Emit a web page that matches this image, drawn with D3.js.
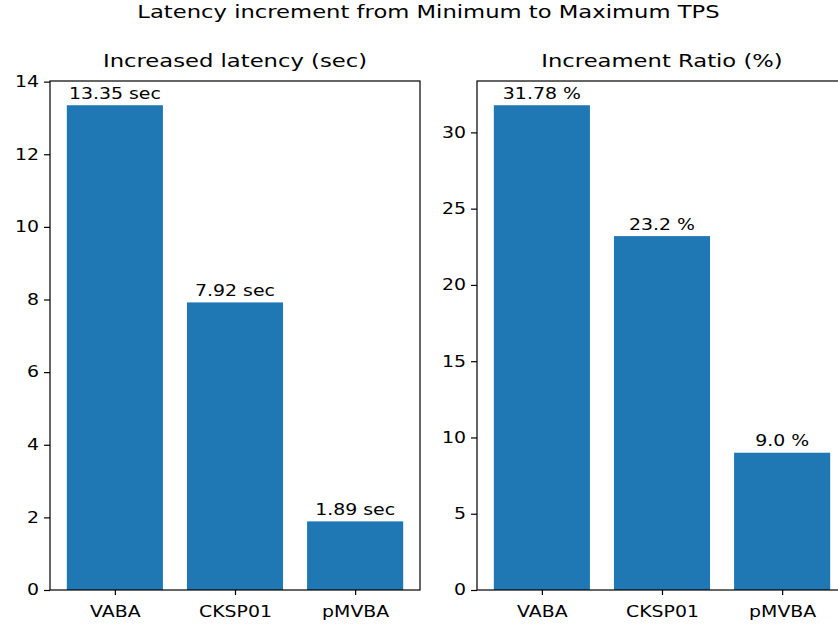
<!DOCTYPE html>
<html>
<head>
<meta charset="utf-8">
<script src="https://cdn.jsdelivr.net/npm/d3@7"></script>
<style>
  body { margin: 0; background: #fff; }
  svg { font-family: "DejaVu Sans", sans-serif; }
</style>
</head>
<body>
<div id="chart"></div>
<script>
const categories = ["VABA", "CKSP01", "pMVBA"];
const latencyValues = [13.35, 7.92, 1.89];
const ratioValues = [31.78, 23.2, 9.0];
const latencyTicks = [0, 2, 4, 6, 8, 10, 12, 14];
const ratioTicks = [0, 5, 10, 15, 20, 25, 30];

const W = 838, H = 626;
const SX = 1.26; // the picture is wider than tall, text is stretched sideways
const svg = d3.select("#chart").append("svg").attr("width", W).attr("height", H);

// python-like float printing (9.0 stays "9.0")
const pyStr = (v) => (Number.isInteger(v) ? v.toFixed(1) : String(v));

// stretch text horizontally around its anchor x
function stretch(sel) {
  sel.each(function () {
    const t = d3.select(this);
    const x = +(t.attr("x") || 0);
    t.attr("x", x / SX).attr("transform", `scale(${SX},1)`);
  });
}

svg.append("text")
  .attr("x", 428.5)
  .attr("y", 18)
  .attr("text-anchor", "middle")
  .attr("font-size", 18)
  .text("Latency increment from Minimum to Maximum TPS")
  .call(stretch);

function panel(left, title, values, ticks, unit) {
  const top = 81, bottom = 590, w = 370;
  const g = svg.append("g").attr("transform", `translate(${left},0)`);

  // bar width 0.8, matplotlib 5% margins
  const x = d3.scaleLinear().domain([-0.54, 2.54]).range([0, w]);
  const y = d3.scaleLinear().domain([0, d3.max(values) * 1.05]).range([bottom, top]);

  g.selectAll("rect")
    .data(values)
    .join("rect")
    .attr("x", (d, i) => x(i - 0.4))
    .attr("width", x(0.8) - x(0))
    .attr("y", (d) => y(d))
    .attr("height", (d) => bottom - y(d))
    .attr("fill", "#1f77b4");

  g.selectAll(".blabel")
    .data(values)
    .join("text")
    .attr("class", "blabel")
    .attr("x", (d, i) => x(i))
    .attr("y", (d) => y(d) - 6.5)
    .attr("text-anchor", "middle")
    .attr("font-size", 15)
    .text((d) => pyStr(d) + " " + unit)
    .call(stretch);

  const ax = g.append("g").attr("transform", `translate(0,${bottom})`)
    .call(d3.axisBottom(x).tickValues([0, 1, 2]).tickFormat((d) => categories[d]).tickSize(5).tickSizeOuter(0));
  ax.selectAll("text").attr("y", 27).attr("dy", null).attr("font-size", 15).attr("fill", "#000").call(stretch);

  const ay = g.append("g")
    .call(d3.axisLeft(y).tickValues(ticks).tickSize(6).tickPadding(5).tickSizeOuter(0));
  ay.selectAll("text").attr("font-size", 15).attr("fill", "#000").call(stretch);

  [ax, ay].forEach((a) => {
    a.select(".domain").remove();
    a.selectAll("line").attr("stroke", "#000").attr("stroke-width", 1.2);
    a.attr("font-family", null);
  });

  g.append("rect")
    .attr("x", 0).attr("y", top)
    .attr("width", w).attr("height", bottom - top)
    .attr("fill", "none")
    .attr("stroke", "#000")
    .attr("stroke-width", 1.2);

  g.append("text")
    .attr("x", w / 2)
    .attr("y", 67.5)
    .attr("text-anchor", "middle")
    .attr("font-size", 18)
    .text(title)
    .call(stretch);
}

panel(50, "Increased latency (sec)", latencyValues, latencyTicks, "sec");
panel(477, "Increament Ratio (%)", ratioValues, ratioTicks, "%");
</script>
</body>
</html>
